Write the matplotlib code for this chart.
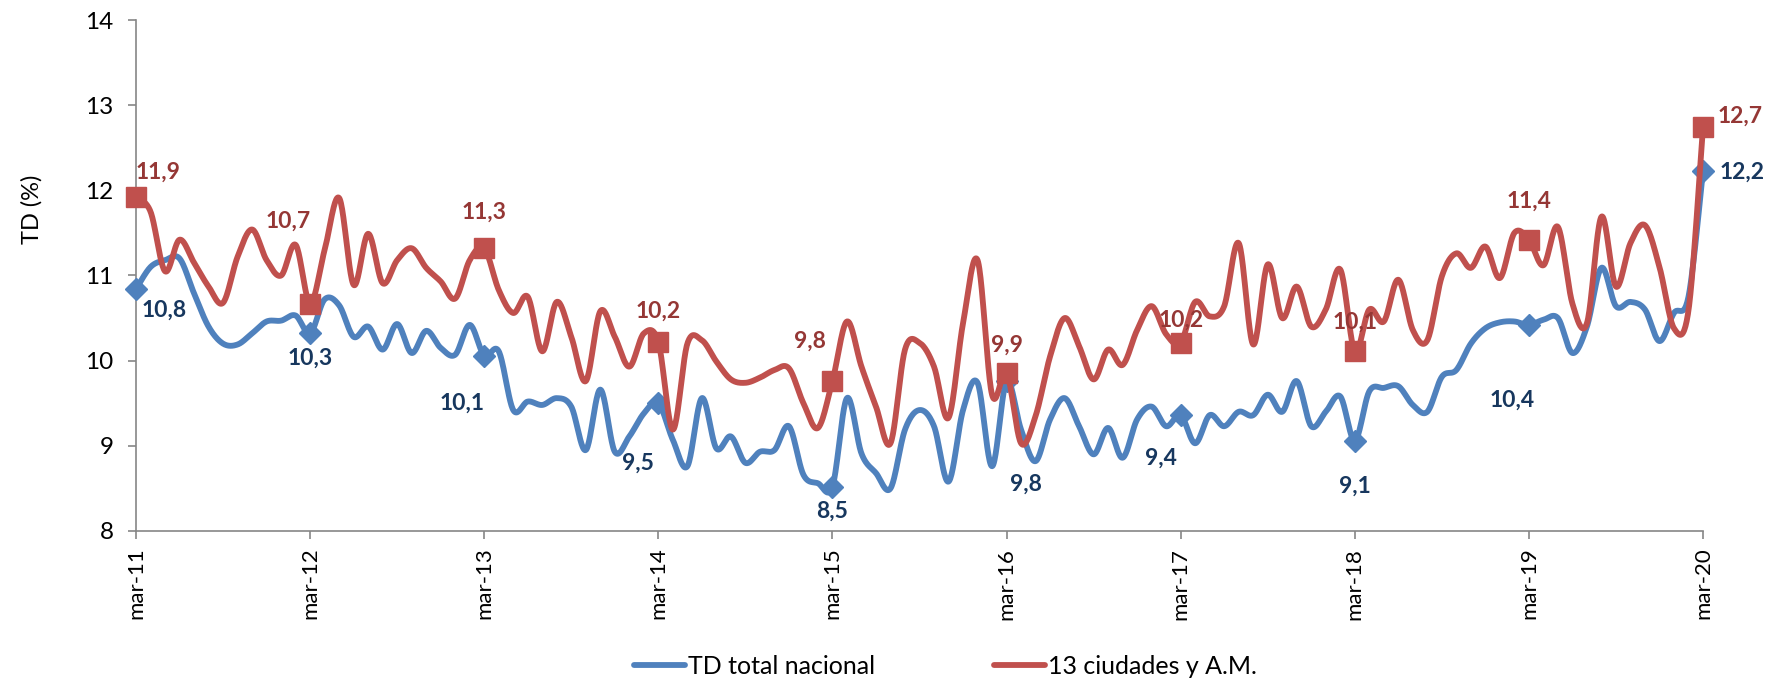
import numpy as np
import matplotlib
matplotlib.use("Agg")
import matplotlib.pyplot as plt
from matplotlib.lines import Line2D

# monthly unemployment rate, mar-11 .. mar-20
tick_labels = ["mar-11", "mar-12", "mar-13", "mar-14", "mar-15",
               "mar-16", "mar-17", "mar-18", "mar-19", "mar-20"]

td_nacional = [
  10.84, 11.10, 11.18, 11.20, 10.79, 10.40, 10.20, 10.19, 10.32, 10.46, 10.47, 10.53,
  10.32, 10.72, 10.65, 10.28, 10.40, 10.13, 10.43, 10.09, 10.35, 10.15, 10.07, 10.42,
  10.06, 10.11, 9.42, 9.52, 9.48, 9.56, 9.46, 8.95, 9.66, 8.93, 9.11, 9.38,
  9.50, 9.07, 8.76, 9.56, 8.97, 9.11, 8.80, 8.93, 8.95, 9.23, 8.66, 8.56,
  8.52, 9.56, 8.91, 8.68, 8.50, 9.19, 9.42, 9.23, 8.58, 9.42, 9.74, 8.76,
  9.76, 9.19, 8.82, 9.31, 9.56, 9.23, 8.90, 9.21, 8.86, 9.31, 9.46, 9.23,
  9.36, 9.03, 9.36, 9.23, 9.40, 9.36, 9.60, 9.40, 9.76, 9.23, 9.40, 9.58,
  9.06, 9.64, 9.68, 9.70, 9.48, 9.40, 9.81, 9.89, 10.20, 10.38, 10.45, 10.46,
  10.42, 10.48, 10.50, 10.09, 10.40, 11.09, 10.64, 10.69, 10.60, 10.23, 10.56, 10.75,
  12.23]

td_13ciudades = [
  11.92, 11.75, 11.05, 11.42, 11.15, 10.87, 10.68, 11.22, 11.54, 11.18, 11.00, 11.36,
  10.67, 11.30, 11.91, 10.89, 11.49, 10.91, 11.18, 11.32, 11.09, 10.93, 10.73, 11.18,
  11.32, 10.83, 10.56, 10.75, 10.11, 10.69, 10.28, 9.76, 10.58, 10.28, 9.93, 10.32,
  10.22, 9.19, 10.20, 10.24, 9.99, 9.78, 9.74, 9.80, 9.89, 9.91, 9.50, 9.21,
  9.76, 10.46, 9.93, 9.46, 9.03, 10.13, 10.21, 9.93, 9.33, 10.44, 11.18, 9.60,
  9.86, 9.03, 9.35, 10.05, 10.50, 10.17, 9.78, 10.13, 9.95, 10.36, 10.64, 10.31,
  10.21, 10.69, 10.52, 10.64, 11.38, 10.19, 11.13, 10.50, 10.87, 10.40, 10.60, 11.07,
  10.11, 10.60, 10.46, 10.95, 10.36, 10.24, 10.99, 11.26, 11.09, 11.34, 10.97, 11.50,
  11.42, 11.12, 11.57, 10.67, 10.44, 11.69, 10.87, 11.38, 11.59, 11.10, 10.38, 10.59,
  12.74]

# label offsets (points) for the March markers
red_off = [(16, 18), (-16, 59), (0, 26), (0, 22), (-16, 29), (0, 20), (0, 16), (0, 21), (0, 28), (27, 8)]
blue_off = [(20, -15), (0, -18), (-16, -34), (-15, -43), (0, -18), (14, -74), (-14, -31), (0, -33), (-12, -54), (28, -1)]

BLUE = "#4F81BD"
RED = "#C0504D"
BLUE_TXT = "#17375E"
RED_TXT = "#953735"
GRAY = "#868686"

plt.rcParams['font.family'] = ['Lato', 'DejaVu Sans']


def smooth(y, n=24):
  # catmull-rom style smoothing like the spreadsheet "smoothed line"
  y = np.asarray(y, float)
  x = np.arange(len(y), dtype=float)
  pts = np.column_stack([x, y])
  ext = np.vstack([pts[0], pts, pts[-1]])
  xs, ys = [], []
  t = np.linspace(0, 1, n, endpoint=False)
  for i in range(len(pts) - 1):
    p0, p1, p2, p3 = ext[i], ext[i + 1], ext[i + 2], ext[i + 3]
    c1 = p1 + (p2 - p0) / 6.
    c2 = p2 - (p3 - p1) / 6.
    b = ((1 - t) ** 3)[:, None] * p1 + (3 * (1 - t) ** 2 * t)[:, None] * c1 \
        + (3 * (1 - t) * t ** 2)[:, None] * c2 + (t ** 3)[:, None] * p2
    xs.append(b[:, 0])
    ys.append(b[:, 1])
  xs.append([x[-1]])
  ys.append([y[-1]])
  return np.concatenate(xs), np.concatenate(ys)


fig = plt.figure(figsize=(17.71, 6.81), dpi=100)
ax = fig.add_axes([0.0768, 0.2203, 0.8848, 0.7503])

march = np.arange(0, len(td_nacional), 12)

sx, sy = smooth(td_nacional)
ax.plot(sx, sy, color=BLUE, lw=4.2, solid_capstyle='round', clip_on=False, zorder=3)
ax.plot(march, np.array(td_nacional)[march], 'D', color=BLUE, ms=11, clip_on=False, zorder=3)

sx, sy = smooth(td_13ciudades)
ax.plot(sx, sy, color=RED, lw=4.2, solid_capstyle='round', clip_on=False, zorder=4)
ax.plot(march, np.array(td_13ciudades)[march], 's', color=RED, ms=15, clip_on=False, zorder=4)

for k, m in enumerate(march):
  v = td_13ciudades[m]
  ax.annotate("{:.1f}".format(v).replace('.', ','), (m, v), xytext=red_off[k],
              textcoords='offset points', ha='center', va='center',
              fontsize=16.5, fontweight='bold', color=RED_TXT, zorder=5)
  v = td_nacional[m]
  ax.annotate("{:.1f}".format(v).replace('.', ','), (m, v), xytext=blue_off[k],
              textcoords='offset points', ha='center', va='center',
              fontsize=16.5, fontweight='bold', color=BLUE_TXT, zorder=5)

ax.set_xlim(0, 108)
ax.set_ylim(8, 14)
ax.set_yticks(range(8, 15))
ax.set_xticks(march)
ax.set_xticklabels(tick_labels, rotation=90)

for s in ['top', 'right']:
  ax.spines[s].set_visible(False)
for s in ['left', 'bottom']:
  ax.spines[s].set_color(GRAY)
  ax.spines[s].set_linewidth(1.2)
ax.tick_params(axis='both', colors=GRAY, labelcolor='black', length=6, width=1.2)
ax.tick_params(axis='y', pad=10, labelsize=17.5)
ax.tick_params(axis='x', pad=6, labelsize=16)

fig.text(32 / 1771., 1 - 209 / 681., "TD (%)", rotation=90, ha='center', va='center', fontsize=17)

handles = [Line2D([], [], color=BLUE, lw=4.2, solid_capstyle='round'),
           Line2D([], [], color=RED, lw=4.2, solid_capstyle='round')]
fig.legend(handles, ["TD total nacional", "13 ciudades y A.M."], loc='center',
           bbox_to_anchor=(0.534, 1 - 666 / 681.), ncol=2, frameon=False, fontsize=18,
           handlelength=2.05, handletextpad=0.12, columnspacing=4.75)

fig.savefig("out.png", dpi=100)
